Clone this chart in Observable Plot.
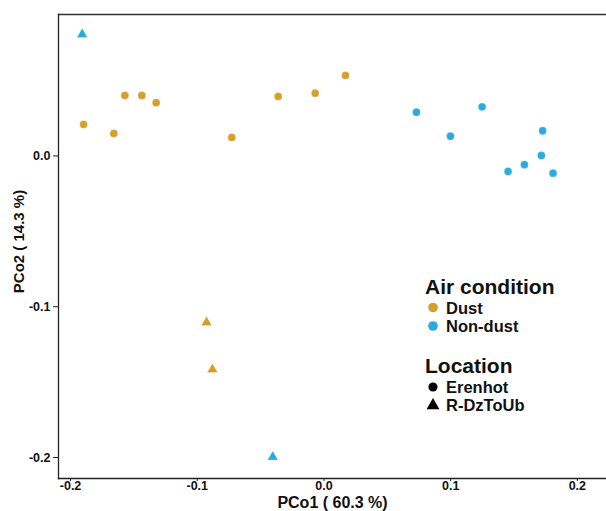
<!DOCTYPE html>
<html>
<head>
<meta charset="utf-8">
<script src="https://cdn.jsdelivr.net/npm/d3@7"></script>
<script src="https://cdn.jsdelivr.net/npm/@observablehq/plot@0.6"></script>
<style>
  html, body { margin: 0; padding: 0; background: #fff; overflow: hidden; }
  #wrap { position: relative; width: 606px; height: 511px; font-family: "Liberation Sans", Arial, sans-serif; }
  #wrap svg text { font-weight: bold; fill: #111; }
  #legend { position: absolute; left: 0; top: 0; pointer-events: none; }
</style>
</head>
<body>
<div id="wrap"></div>
<script>
// ---- data ----
const pco1 = [-0.1908, -0.1897, -0.1658, -0.1571, -0.1437, -0.1324, -0.0727, -0.0361, -0.0069, 0.0170,
              0.0730, 0.0998, 0.1248, 0.1726, 0.1716, 0.1582, 0.1453, 0.1808,
              -0.0927, -0.0880, -0.0404];
const pco2 = [0.0806, 0.0209, 0.0149, 0.0401, 0.0401, 0.0353, 0.0123, 0.0395, 0.0416, 0.0534,
              0.0290, 0.0131, 0.0326, 0.0167, 0.0003, -0.0058, -0.0103, -0.0114,
              -0.1104, -0.1416, -0.1997];
const airCondition = ["Non-dust", "Dust", "Dust", "Dust", "Dust", "Dust", "Dust", "Dust", "Dust", "Dust",
             "Non-dust", "Non-dust", "Non-dust", "Non-dust", "Non-dust", "Non-dust", "Non-dust", "Non-dust",
             "Dust", "Dust", "Non-dust"];
const siteLocation = ["R-DzToUb", "Erenhot", "Erenhot", "Erenhot", "Erenhot", "Erenhot", "Erenhot", "Erenhot", "Erenhot", "Erenhot",
                  "Erenhot", "Erenhot", "Erenhot", "Erenhot", "Erenhot", "Erenhot", "Erenhot", "Erenhot",
                  "R-DzToUb", "R-DzToUb", "R-DzToUb"];
const airCategories = ["Dust", "Non-dust"];
const airColors = ["#D4A02A", "#29ABE2"];
const locCategories = ["Erenhot", "R-DzToUb"];
const locSymbols = ["circle", "triangle"];
const xTicks = [-0.2, -0.1, 0.0, 0.1, 0.2];
const yTicks = [0.0, -0.1, -0.2];
const xLabel = "PCo1 ( 60.3 %)";
const yLabel = "PCo2 ( 14.3 %)";
const airTitle = "Air condition";
const locTitle = "Location";

const data = pco1.map((x, i) => ({x, y: pco2[i], air: airCondition[i], loc: siteLocation[i]}));
const fmt = d => d.toFixed(1);

const chart = Plot.plot({
  width: 606,
  height: 511,
  marginLeft: 58,
  marginTop: 14,
  marginBottom: 33,
  marginRight: 0,
  style: {fontFamily: "Liberation Sans, Arial, sans-serif", fontSize: "12.5px", color: "#111"},
  x: {domain: [-0.2095, 0.223]},
  y: {domain: [-0.2139, 0.0938]},
  color: {domain: airCategories, range: airColors},
  symbol: {domain: locCategories, range: locSymbols},
  marks: [
    Plot.frame({anchor: "top", stroke: "#333", strokeWidth: 1.3}),
    Plot.frame({anchor: "left", stroke: "#222", strokeWidth: 1.3}),
    Plot.frame({anchor: "bottom", stroke: "#222", strokeWidth: 1.3}),
    Plot.axisX({ticks: xTicks, tickFormat: fmt, tickSize: 3, tickPadding: 0, stroke: "#222",
      label: xLabel, labelAnchor: "center", labelArrow: "none", labelOffset: 29.5, fontSize: 12.5}),
    Plot.axisY({ticks: yTicks, tickFormat: fmt, tickSize: 5, tickPadding: 3, stroke: "#222",
      label: yLabel, labelAnchor: "center", labelArrow: "none", labelOffset: 45, fontSize: 12.5}),
    Plot.dot(data, {x: "x", y: "y", fill: "air", symbol: "loc", r: 3.9, stroke: "white", strokeWidth: 0.4, strokeOpacity: 0.6})
  ]
});
const wrap = document.getElementById("wrap");
wrap.appendChild(chart);

chart.querySelectorAll("g[aria-label='x-axis label'] text").forEach(t => t.style.fontSize = "16px");
chart.querySelectorAll("g[aria-label='y-axis label'] text").forEach(t => { t.style.fontSize = "15px"; t.setAttribute("dx", "5"); });

// ---- legend (SVG overlay) ----
const lg = d3.select(wrap).append("svg").attr("id", "legend").attr("width", 606).attr("height", 511)
  .style("font-family", "Liberation Sans, Arial, sans-serif").style("font-weight", "bold");
function legendBlock(titleBaseline, title, cats, drawSymbol) {
  lg.append("text").attr("x", 425).attr("y", titleBaseline).attr("font-size", 21).attr("fill", "#111").text(title);
  cats.forEach((c, i) => {
    const cy = titleBaseline + 13.5 + i * 18.5;
    drawSymbol(lg, i, 433, cy);
    lg.append("text").attr("x", 446).attr("y", cy + 6).attr("font-size", 16.5).attr("fill", "#111").text(c);
  });
}
legendBlock(294, airTitle, airCategories, (g, i, x, y) =>
  g.append("circle").attr("cx", x).attr("cy", y).attr("r", 4.8).attr("fill", airColors[i]));
legendBlock(373, locTitle, locCategories, (g, i, x, y) => {
  const sym = locSymbols[i] === "circle" ? d3.symbolCircle : d3.symbolTriangle;
  g.append("path").attr("transform", `translate(${x},${y + 0.5})`)
    .attr("d", d3.symbol(sym, locSymbols[i] === "circle" ? 66 : 72)()).attr("fill", "#000");
});
</script>
</body>
</html>
